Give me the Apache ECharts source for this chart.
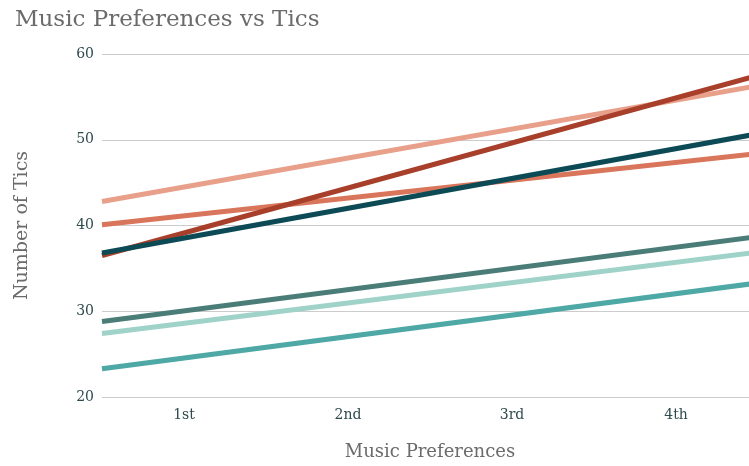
<!DOCTYPE html>
<html>
<head>
<meta charset="utf-8">
<script src="https://cdn.jsdelivr.net/npm/echarts@6/dist/echarts.min.js"></script>
<style>
  html, body { margin: 0; padding: 0; background: #fff; }
  #myChart { width: 749px; height: 466px; }
</style>
</head>
<body>
<div id="myChart"></div>
<script>
// categories on the x axis (positions 1..4)
const categories = ["1st", "2nd", "3rd", "4th"];
const xRange = [0.5, 4.5];

// fitted line for each group: value at the left edge and at the right edge
const groupNames = ["Group A", "Group B", "Group C", "Group D", "Group E", "Group F", "Group G"];
const startValues = [42.8, 40.1, 36.5, 36.8, 28.8, 27.4, 23.3];
const endValues = [56.3, 48.4, 57.5, 50.7, 38.7, 36.9, 33.3];
const colors = ["#e8a08a", "#d9755a", "#a83f2a", "#0c4a55", "#4a7d78", "#9fd2c9", "#4ea8a5"];

const yTicks = [20, 30, 40, 50, 60];

let myChart = echarts.init(document.getElementById("myChart"));

let series = groupNames.map(function (name, i) {
  return {
    name: name,
    type: "line",
    symbol: "none",
    silent: true,
    lineStyle: { width: 5, color: colors[i], cap: "butt" },
    data: [
      [xRange[0], startValues[i]],
      [xRange[1], endValues[i]],
    ],
  };
});

let option = {
  animation: false,
  title: {
    text: "Music Preferences vs Tics",
    left: 10,
    top: 4,
    textStyle: {
      fontFamily: "DejaVu Serif",
      fontSize: 23,
      fontWeight: "normal",
      color: "#6b6b6b",
    },
  },
  grid: { left: 102, top: 54, width: 656, height: 343, outerBoundsMode: "none" },
  xAxis: {
    type: "value",
    min: xRange[0],
    max: xRange[1],
    interval: 0.5,
    name: "Music Preferences",
    nameLocation: "middle",
    nameGap: 46,
    nameTextStyle: { fontFamily: "DejaVu Serif", fontSize: 18, color: "#6b6b6b" },
    axisLine: { show: false },
    axisTick: { show: false },
    splitLine: { show: false },
    axisLabel: {
      margin: 11,
      fontFamily: "DejaVu Serif",
      fontSize: 14,
      color: "#2e4a4c",
      formatter: function (v) {
        return Number.isInteger(v) ? categories[v - 1] || "" : "";
      },
    },
  },
  yAxis: {
    type: "value",
    min: yTicks[0],
    max: yTicks[yTicks.length - 1],
    interval: 10,
    name: "Number of Tics",
    nameLocation: "middle",
    nameGap: 70,
    nameTextStyle: { fontFamily: "DejaVu Serif", fontSize: 19, color: "#6b6b6b" },
    axisLine: { show: false },
    axisTick: { show: false },
    axisLabel: {
      margin: 8,
      fontFamily: "DejaVu Serif",
      fontSize: 14,
      color: "#2e4a4c",
    },
    splitLine: { lineStyle: { color: "#cccccc", width: 1 } },
  },
  series: series,
};

myChart.setOption(option);
</script>
</body>
</html>
